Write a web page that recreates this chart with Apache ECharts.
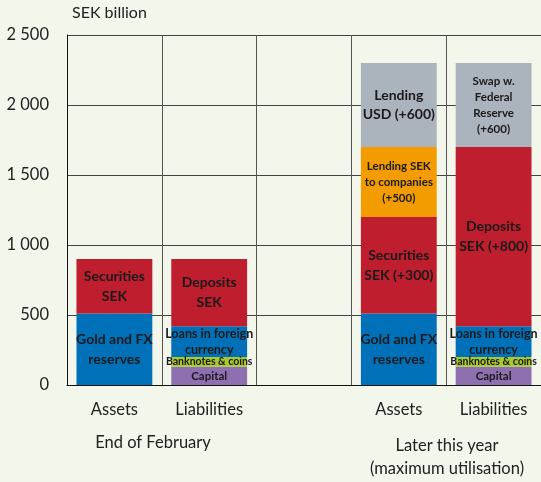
<!DOCTYPE html>
<html>
<head>
<meta charset="utf-8">
<script src="https://cdn.jsdelivr.net/npm/echarts@6/dist/echarts.min.js"></script>
<style>
  html, body { margin: 0; padding: 0; background: #f3f6ea; }
  #chart { width: 541px; height: 482px; }
</style>
</head>
<body>
<div id="chart"></div>
<script>
// categories on the x axis
var categories = ["Assets", "Liabilities", "", "Assets", "Liabilities"];
var yTicks = [0, 500, 1000, 1500, 2000, 2500];

// stacked values, SEK billion ('-' = no bar in that column)
var gold = [510, "-", "-", 510, "-"];
var securities = [390, "-", "-", 690, "-"];
var lendingSek = ["-", "-", "-", 500, "-"];
var lendingUsd = ["-", "-", "-", 600, "-"];
var capital = ["-", 130, "-", "-", 130];
var banknotes = ["-", 70, "-", "-", 70];
var loansFx = ["-", 220, "-", "-", 220];
var deposits = ["-", 480, "-", "-", 1280];
var swap = ["-", "-", "-", "-", 600];

// text inside the bars
var goldText = ["Gold and FX\nreserves", "", "", "Gold and FX\nreserves", ""];
var securitiesText = ["Securities\nSEK", "", "", "Securities\nSEK (+300)", ""];
var lendingSekText = ["", "", "", "Lending SEK\nto companies\n(+500)", ""];
var lendingUsdText = ["", "", "", "Lending\nUSD (+600)", ""];
var capitalText = ["", "Capital", "", "", "Capital"];
var banknotesText = ["", "Banknotes & coins", "", "", "Banknotes & coins"];
var loansFxText = ["", "Loans in foreign\ncurrency", "", "", "Loans in foreign\ncurrency"];
var depositsText = ["", "Deposits\nSEK", "", "", "Deposits\nSEK (+800)"];
var swapText = ["", "", "", "", "Swap w.\nFederal\nReserve\n(+600)"];

var FONT = "Lato";

function makeSeries(name, data, texts, color, size, lh) {
  return {
    name: name,
    type: "bar",
    stack: "total",
    barWidth: "80%",
    data: data,
    itemStyle: { color: color },
    label: {
      show: true,
      position: "inside",
      fontFamily: FONT,
      fontWeight: "bold",
      fontSize: size,
      lineHeight: lh,
      color: "#1a1a1a",
      overflow: "none",
      formatter: function (p) {
        return texts[p.dataIndex];
      },
    },
  };
}

var myChart = echarts.init(document.getElementById("chart"));
var option = {
  backgroundColor: "#f3f6ea",
  animation: false,
  grid: { left: 67, right: -1, top: 35, bottom: 97 },
  xAxis: {
    type: "category",
    data: categories,
    axisLine: { lineStyle: { color: "#111", width: 1 } },
    axisTick: { show: false },
    axisLabel: { fontFamily: FONT, fontSize: 16.5, color: "#222", margin: 16 },
    splitLine: { show: true, interval: 0, lineStyle: { color: "#555", width: 1 } },
  },
  yAxis: {
    type: "value",
    min: yTicks[0],
    max: yTicks[yTicks.length - 1],
    interval: 500,
    axisLine: { show: true, lineStyle: { color: "#111" } },
    axisTick: { show: false },
    axisLabel: {
      fontFamily: FONT,
      fontSize: 16.5,
      color: "#222",
      margin: 18,
      formatter: function (v) {
        return String(v).replace(/\B(?=(\d{3})+(?!\d))/g, " ");
      },
    },
    splitLine: { lineStyle: { color: "#444", width: 1 } },
  },
  graphic: [
    { type: "text", style: { x: 72, y: 5, text: "SEK billion", font: "16px " + FONT, fill: "#222" } },
    { type: "text", style: { x: 153, y: 434, text: "End of February", font: "16.5px " + FONT, fill: "#222", textAlign: "center" } },
    { type: "text", style: { x: 447, y: 434, text: "Later this year\n(maximum utilisation)", font: "16.5px " + FONT, fill: "#222", textAlign: "center", lineHeight: 23 } },
  ],
  series: [
    makeSeries("Gold and FX reserves", gold, goldText, "#0070b8", 14, 20),
    makeSeries("Securities SEK", securities, securitiesText, "#be1e2d", 14, 20),
    makeSeries("Lending SEK", lendingSek, lendingSekText, "#f39c00", 11.5, 16),
    makeSeries("Lending USD", lendingUsd, lendingUsdText, "#abb3bd", 14, 19),
    makeSeries("Capital", capital, capitalText, "#8e6fb0", 11.5, 14),
    makeSeries("Banknotes & coins", banknotes, banknotesText, "#a9c92f", 10.5, 12),
    makeSeries("Loans in foreign currency", loansFx, loansFxText, "#0070b8", 12.5, 16),
    makeSeries("Deposits SEK", deposits, depositsText, "#be1e2d", 14, 20),
    makeSeries("Swap w. Federal Reserve", swap, swapText, "#abb3bd", 11.5, 16),
  ],
};
option && myChart.setOption(option);
</script>
</body>
</html>
